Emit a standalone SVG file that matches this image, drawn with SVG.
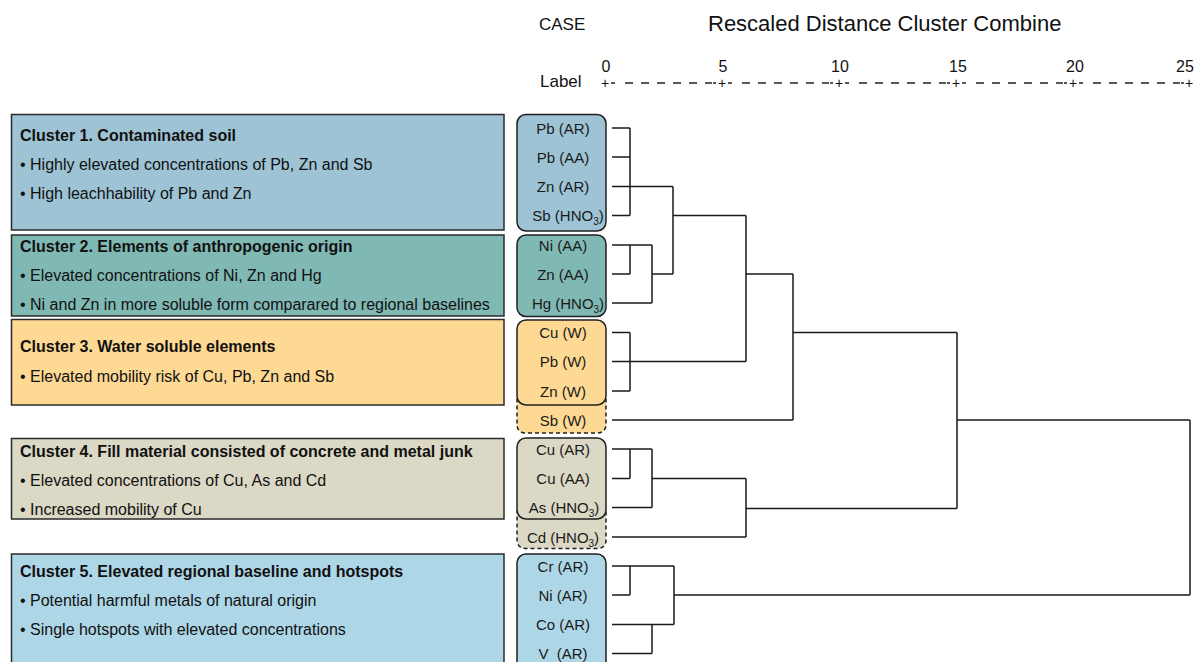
<svg xmlns="http://www.w3.org/2000/svg" width="1195" height="662" viewBox="0 0 1195 662">
<style>
.hdr{font-family:"Liberation Sans",Arial,sans-serif;fill:#111}
.box{stroke:#2a2a2a;stroke-width:1.5}
.ttl{font-family:"Liberation Sans",Arial,sans-serif;font-size:16px;font-weight:bold;fill:#111}
.bul{font-family:"Liberation Sans",Arial,sans-serif;font-size:16px;fill:#111}
.lbl{font-family:"Liberation Sans",Arial,sans-serif;font-size:15px;fill:#1a1a1a;text-anchor:middle}
.sub{font-size:10px}
.lb{stroke:#1f1f1f;stroke-width:1.5}
.dash{stroke:#1f1f1f;stroke-width:1.5;stroke-dasharray:4 3}
.c1{fill:#9dc3d5}.c2{fill:#80b8b4}.c3{fill:#fdd994}.c4{fill:#dbd8c6}.c5{fill:#add7e7}
.conn{fill:none;stroke:#1a1a1a;stroke-width:1.5}
.tick{font-family:"Liberation Sans",Arial,sans-serif;font-size:16px;fill:#111;text-anchor:middle}
.plus{font-family:"Liberation Sans",Arial,sans-serif;font-size:14px;fill:#111;text-anchor:middle}
</style>
<rect width="1195" height="662" fill="#fff"/>
<g id="header">
<text class="hdr" x="539" y="30" font-size="17">CASE</text>
<text class="hdr" x="708" y="30.5" font-size="22">Rescaled Distance Cluster Combine</text>
<text class="hdr" x="540" y="87" font-size="17">Label</text>
<text class="tick" x="606" y="71.5">0</text>
<text class="tick" x="723" y="71.5">5</text>
<text class="tick" x="840" y="71.5">10</text>
<text class="tick" x="958" y="71.5">15</text>
<text class="tick" x="1075" y="71.5">20</text>
<text class="tick" x="1185" y="71.5">25</text>
<text class="plus" x="605" y="88">+</text>
<text class="plus" x="722" y="88">+</text>
<text class="plus" x="839" y="88">+</text>
<text class="plus" x="956" y="88">+</text>
<text class="plus" x="1073" y="88">+</text>
<text class="plus" x="1189" y="88">+</text>
<path fill="none" stroke="#222" stroke-width="1.3" d="M611 83h4M625 83h8M641 83h8M657 83h8M673 83h8M689 83h8M705 83h7M713 83h3 M728 83h4M742 83h8M758 83h8M774 83h8M790 83h8M806 83h8M822 83h7M830 83h3 M845 83h4M859 83h8M875 83h8M891 83h8M907 83h8M923 83h8M939 83h7M947 83h3 M962 83h4M976 83h8M992 83h8M1008 83h8M1024 83h8M1040 83h8M1056 83h7M1064 83h3 M1079 83h4M1093 83h8M1109 83h8M1125 83h8M1141 83h8M1157 83h8M1173 83h7M1181 83h3"/>
</g>
<g id="cluster1">
<rect class="box c1" x="11.5" y="114.5" width="492.5" height="115.5"/>
<text class="ttl" x="20" y="141">Cluster 1. Contaminated soil</text>
<text class="bul" x="20" y="170">• Highly elevated concentrations of Pb, Zn and Sb</text>
<text class="bul" x="20" y="199">• High leachhability of Pb and Zn</text>
</g>
<g id="cluster2">
<rect class="box c2" x="11.5" y="235" width="492.5" height="81"/>
<text class="ttl" x="20" y="252">Cluster 2. Elements of anthropogenic origin</text>
<text class="bul" x="20" y="281">• Elevated concentrations of Ni, Zn and Hg</text>
<text class="bul" x="20" y="310">• Ni and Zn in more soluble form comparared to regional baselines</text>
</g>
<g id="cluster3">
<rect class="box c3" x="11.5" y="319.5" width="492.5" height="85.5"/>
<text class="ttl" x="20" y="352">Cluster 3. Water soluble elements</text>
<text class="bul" x="20" y="382">• Elevated mobility risk of Cu, Pb, Zn and Sb</text>
</g>
<g id="cluster4">
<rect class="box c4" x="11.5" y="438.5" width="492.5" height="80.5"/>
<text class="ttl" x="20" y="457">Cluster 4. Fill material consisted of concrete and metal junk</text>
<text class="bul" x="20" y="486">• Elevated concentrations of Cu, As and Cd</text>
<text class="bul" x="20" y="515">• Increased mobility of Cu</text>
</g>
<g id="cluster5">
<rect class="box c5" x="11.5" y="554" width="492.5" height="120"/>
<text class="ttl" x="20" y="577">Cluster 5. Elevated regional baseline and hotspots</text>
<text class="bul" x="20" y="606">• Potential harmful metals of natural origin</text>
<text class="bul" x="20" y="635">• Single hotspots with elevated concentrations</text>
</g>
<g id="labels1">
<rect class="lb c1" x="517" y="114.5" width="89" height="116.5" rx="9"/>
<text class="lbl" x="563" y="133.5">Pb (AR)</text>
<text class="lbl" x="563" y="162.5">Pb (AA)</text>
<text class="lbl" x="563" y="192">Zn (AR)</text>
<text class="lbl" x="568" y="221">Sb (HNO<tspan class="sub" dy="4">3</tspan><tspan dy="-4">)</tspan></text>
</g>
<g id="labels2">
<rect class="lb c2" x="517" y="235" width="89" height="81.5" rx="9"/>
<text class="lbl" x="563" y="250.5">Ni (AA)</text>
<text class="lbl" x="563" y="279.5">Zn (AA)</text>
<text class="lbl" x="568" y="308.5">Hg (HNO<tspan class="sub" dy="4">3</tspan><tspan dy="-4">)</tspan></text>
</g>
<g id="labels3">
<rect class="dash c3" x="517" y="392" width="89" height="41" rx="8"/>
<rect class="lb c3" x="517" y="320" width="89" height="85" rx="9"/>
<text class="lbl" x="563" y="338">Cu (W)</text>
<text class="lbl" x="563" y="367">Pb (W)</text>
<text class="lbl" x="563" y="396.5">Zn (W)</text>
<text class="lbl" x="563" y="425.5">Sb (W)</text>
</g>
<g id="labels4">
<rect class="dash c4" x="517" y="505" width="89" height="43.5" rx="8"/>
<rect class="lb c4" x="517" y="438" width="89" height="81" rx="9"/>
<text class="lbl" x="563" y="454.5">Cu (AR)</text>
<text class="lbl" x="563" y="484">Cu (AA)</text>
<text class="lbl" x="564" y="513">As (HNO<tspan class="sub" dy="4">3</tspan><tspan dy="-4">)</tspan></text>
<text class="lbl" x="563" y="542.5">Cd (HNO<tspan class="sub" dy="4">3</tspan><tspan dy="-4">)</tspan></text>
</g>
<g id="labels5">
<rect class="lb c5" x="517" y="554" width="89" height="120" rx="9"/>
<text class="lbl" x="563" y="571.5">Cr (AR)</text>
<text class="lbl" x="563" y="600.5">Ni (AR)</text>
<text class="lbl" x="563" y="630">Co (AR)</text>
<text class="lbl" x="563" y="659" xml:space="preserve">V  (AR)</text>
</g>
<g id="connectors">
<path class="conn" d="M612 128H630M612 157H630M612 215.5H630M630 128V215.5M612 186.5H673M673 186.5V274"/>
<path class="conn" d="M612 245H652M612 274H630M630 245V274M612 303H652M652 245V303M652 274H673M673 215.5H746M746 215.5V361.5"/>
<path class="conn" d="M612 332.5H630M612 391H630M630 332.5V391M612 361.5H746M746 274H793M612 420H793M793 274V420M793 332.5H957"/>
<path class="conn" d="M612 449H652M612 478.5H630M630 449V478.5M612 507.5H652M652 449V507.5M652 478.5H746M612 537H746M746 478.5V537M746 508.5H957M957 332.5V508.5M957 420H1190"/>
<path class="conn" d="M612 566H674M612 595H630M630 566V595M612 624.5H674M612 653.5H652M652 624.5V653.5M674 566V624.5M674 595H1190M1190 420V595"/>
</g>
</svg>
